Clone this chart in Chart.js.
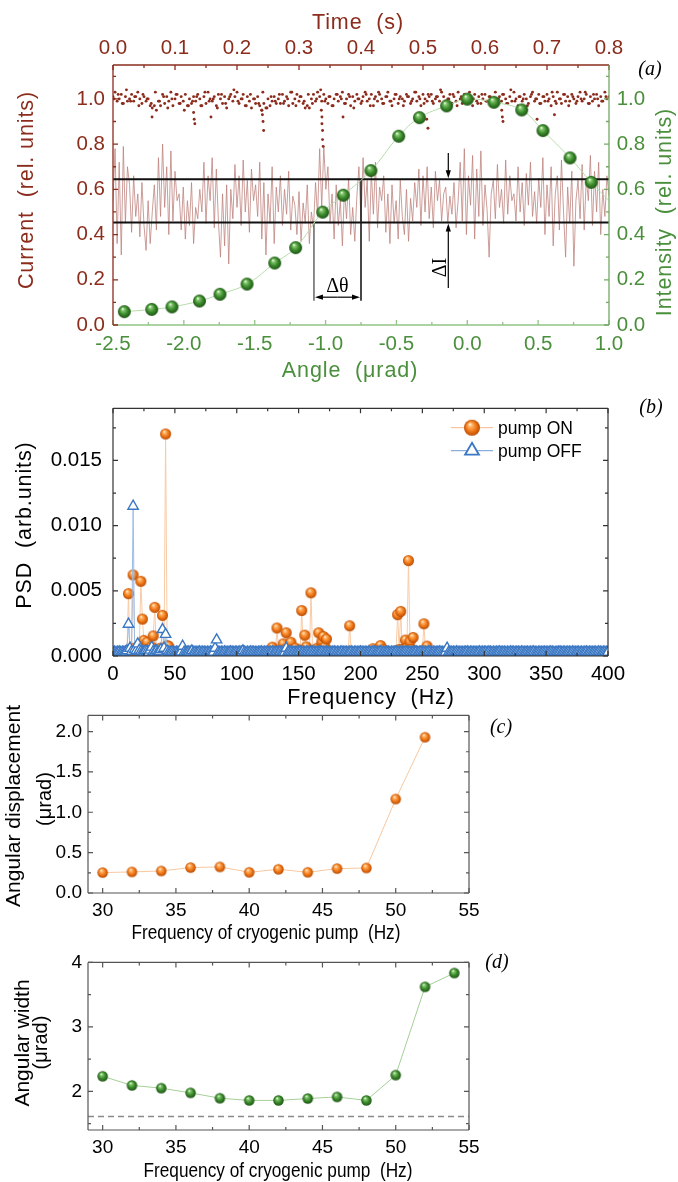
<!DOCTYPE html>
<html>
<head>
<meta charset="utf-8">
<script src="https://cdn.jsdelivr.net/npm/chart.js@4.4.1/dist/chart.umd.min.js"></script>
<style>
  html, body { margin: 0; padding: 0; background: #ffffff; }
  #page { position: relative; width: 678px; height: 1182px; overflow: hidden; background: #ffffff; }
  #page canvas { position: absolute; left: 0; }
</style>
</head>
<body>
<div id="page">
  <canvas id="panelA" width="678" height="385" style="top:0px"></canvas>
  <canvas id="panelB" width="678" height="325" style="top:385px"></canvas>
  <canvas id="panelC" width="678" height="252" style="top:698px"></canvas>
  <canvas id="panelD" width="678" height="237" style="top:945px"></canvas>
</div>
<script>
// ---------------- Panel (a): rocking curve and detector current ----------------
const angleUrad = [-2.42, -2.227, -2.084, -1.89, -1.745, -1.554, -1.359, -1.211, -1.02, -0.875,
                   -0.68, -0.484, -0.338, -0.146, 0.0, 0.188, 0.384, 0.534, 0.725, 0.875];
const intensityRel = [0.059, 0.069, 0.080, 0.106, 0.136, 0.181, 0.274, 0.342, 0.499, 0.574,
                      0.683, 0.835, 0.917, 0.969, 0.999, 0.985, 0.951, 0.860, 0.739, 0.631];
// the fitted curve continues to the edge of the angular range
const fitTailAngle = [1.0];
const fitTailIntensity = [0.55];

const recordSeconds = 0.8;
// ionisation-chamber current, evenly sampled over the record
const currentRel = [
  1.01,1.03,0.99,1.00,1.02,0.98,1.01,0.99,1.00,1.02,0.99,1.01,1.03,1.00,0.98,1.01,0.99,1.00,0.97,0.96,
  0.97,0.95,0.99,0.97,1.02,0.98,1.01,0.99,1.03,0.97,1.00,1.02,0.98,1.01,0.99,1.02,0.97,1.00,0.98,1.01,
  0.99,1.02,1.00,0.97,1.01,0.98,1.03,1.00,0.99,1.01,0.97,1.02,1.00,0.98,1.01,0.96,1.00,1.02,0.99,1.01,
  1.03,0.98,1.00,1.02,0.97,1.01,0.99,0.96,1.00,0.98,1.01,0.97,0.95,0.98,0.96,1.00,0.97,0.99,1.01,0.98,
  1.00,0.98,1.02,0.99,1.01,0.97,1.03,0.98,1.00,1.02,0.99,1.01,0.98,0.96,0.97,0.96,1.00,1.02,0.99,1.03,
  1.01,0.99,1.02,1.00,0.98,1.01,0.97,1.00,1.02,0.99,1.01,1.03,0.98,1.00,1.02,0.97,1.01,0.99,1.02,1.00,
  0.98,1.01,1.03,0.99,1.00,1.02,0.97,1.01,0.99,1.02,1.00,0.98,1.01,1.03,0.99,0.97,1.00,1.02,0.98,1.01,
  1.00,0.99,1.02,1.01,0.98,1.00,1.03,0.99,1.01,0.97,1.02,1.00,0.99,1.01,1.02,0.98,1.00,1.01,0.99,1.03,
  1.01,0.99,1.00,1.02,0.98,1.01,0.99,1.03,1.00,0.98,1.02,0.99,1.01,1.00,0.97,1.02,0.99,1.01,0.98,1.00,
  1.02,0.99,1.01,0.97,1.00,1.03,0.98,1.01,0.99,1.02,1.00,0.98,1.01,0.99,1.03,1.00,0.97,1.01,0.99,1.02,
  1.00,0.98,1.01,1.03,0.99,1.00,1.02,0.98,1.01,0.99,1.02,1.00,0.97,1.01,0.99,1.03,1.00,0.98,1.02,0.99,
  1.01,0.99,1.02,1.00,0.98,1.01,1.03,0.99,1.00,1.02,0.98,1.01,0.99,1.00,1.02,0.97,1.01,0.99,1.03,1.00,
  1.01
];
// second read-out of the same current, sampled between the points above
const currentRelMid = [
  1.00,1.02,0.98,1.04,0.99,1.01,0.97,1.02,1.00,0.98,1.03,0.99,1.01,0.96,1.00,1.02,0.98,0.95,0.97,0.99,
  1.01,0.97,1.03,0.99,1.00,0.96,1.02,0.98,1.01,1.04,0.99,1.00,0.97,1.02,1.00,0.98,1.03,0.96,1.01,0.99,
  1.02,0.98,1.00,1.03,0.97,1.01,0.99,1.02,0.98,1.00,1.04,0.99,1.01,0.97,1.02,1.00,0.98,1.01,0.96,1.00,
  0.99,1.02,0.97,1.00,1.03,0.98,1.01,0.99,1.02,1.00,0.97,1.01,0.99,1.03,1.00,0.98,1.02,0.99,1.01,1.04,
  0.98,1.00,1.02,0.97,1.01,0.99,1.03,1.00,0.98,1.02,0.99,1.01,0.97,1.00,1.02,0.98,1.04,0.99,1.01,1.00,
  0.97,1.02,1.00,0.98,1.01,0.99,1.03,0.98,1.00,1.02,0.97,1.01,0.99,1.00,1.03,0.98,1.02,1.00,0.99,1.01
];
// short drops of the current (seconds, relative units)
const dipTimes = [0.063, 0.130, 0.131, 0.132, 0.158, 0.240, 0.241, 0.242, 0.243,
                  0.336, 0.337, 0.337, 0.338, 0.338, 0.339, 0.371, 0.506, 0.508,
                  0.627, 0.628, 0.629, 0.684, 0.712];
const dipCurrent = [0.92, 0.94, 0.91, 0.89, 0.92, 0.95, 0.93, 0.90, 0.86,
                    0.95, 0.92, 0.89, 0.86, 0.82, 0.79, 0.92, 0.91, 0.87,
                    0.95, 0.92, 0.90, 0.91, 0.93];
// diffracted intensity recorded at a fixed angle, evenly sampled over the record
const intensityTrace = [
  0.55,0.78,0.36,0.72,0.31,0.79,0.45,0.70,
  0.62,0.41,0.66,0.48,0.58,0.39,0.63,
  0.44,0.33,0.55,0.36,0.50,
  0.62,0.42,0.74,0.48,0.80,0.52,0.70,0.40,0.77,0.46,0.68,0.55,
  0.58,0.42,0.61,0.38,0.55,0.44,0.63,0.36,0.52,0.47,0.60,
  0.50,0.72,0.45,0.66,0.55,0.74,0.43,0.69,
  0.46,0.30,0.58,0.35,0.62,0.27,
  0.60,0.47,0.71,0.52,0.66,0.44,0.73,0.50,0.64,0.41,0.69,0.55,0.62,
  0.48,0.72,0.38,0.63,0.31,0.58,0.45,0.70,0.36,0.61,0.50,
  0.66,0.44,0.60,0.49,0.68,0.42,0.57,0.53,
  0.40,0.59,0.37,0.54,0.45,0.62,0.36,0.50,0.43,
  0.63,0.48,0.78,0.52,0.79,0.60,0.70,0.45,
  0.58,0.38,0.62,0.44,0.55,0.35,0.60,0.47,0.65,0.40,0.52,0.37,0.57,
  0.70,0.46,0.74,0.52,0.64,0.37,0.68,0.49,0.72,0.43,0.61,0.55,0.66,
  0.41,0.58,0.36,0.62,0.45,0.55,0.38,0.64,0.48,0.40,0.60,0.37,0.56,0.46,0.63,
  0.52,0.69,0.44,0.66,0.50,0.70,0.47,0.61,0.43,0.68,0.55,0.64,0.46,0.58,
  0.61,0.45,0.57,0.49,0.63,0.43,0.55,
  0.72,0.46,0.78,0.40,0.66,0.53,0.75,0.38,0.69,0.48,0.77,0.44,0.62,0.51,0.30,0.58,
  0.64,0.47,0.71,0.52,0.60,0.45,0.73,0.49,0.66,0.55,0.58,0.46,0.70,0.50,0.63,0.44,0.67,0.53,0.72,0.48,0.59,0.45,0.65,
  0.52,0.74,0.40,0.62,0.48,0.70,0.35,0.58,0.66,0.42,0.73,0.50,0.30,0.61,0.45,0.68,0.26,0.55,0.64,
  0.47,0.71,0.42,0.65,0.55,0.75,0.44,0.68,0.50,0.72,0.40,0.60,0.48,0.66,0.57
];
// fluctuation band and the construction for the angular displacement
const upperLevel = 0.645, lowerLevel = 0.453;
const dThetaFrom = -1.082, dThetaTo = -0.75, dThetaArrowLevel = 0.123, guideFoot = 0.107;
const dIAngle = -0.134, dITopStart = 0.761, dIBottomStart = 0.164, dILabelLevel = 0.254;

// ---------------- Panel (b): power spectral density ----------------
const binWidthHz = 1.25;
// PSD per frequency bin, in units of 1e-5
const psdOnE5 = [
  20,18,22,19,21,17,20,23,19,30,478,45,60,622,40,35,55,70,573,283,
  120,60,105,50,40,70,154,373,45,40,55,60,312,50,1703,80,75,30,22,20,
  18,20,22,19,17,21,24,20,18,19,22,20,17,21,19,23,20,18,22,19,
  21,19,23,18,20,22,19,17,21,20,18,22,19,21,20,24,19,35,20,18,
  22,19,21,18,20,23,19,21,17,20,22,18,21,19,20,22,18,21,19,20,
  20,22,25,68,30,40,215,35,25,40,93,50,178,45,40,105,50,35,60,30,
  30,45,349,40,160,70,35,30,485,40,30,50,60,178,60,110,150,70,130,40,
  30,25,22,20,21,19,23,20,18,22,24,21,30,232,28,20,19,22,21,18,
  20,22,19,21,23,20,18,25,56,22,40,20,50,80,40,50,22,19,21,20,
  22,25,30,40,317,50,342,50,40,122,60,732,110,50,142,40,30,25,30,35,
  40,247,40,76,30,22,20,19,21,23,18,20,22,19,21,20,18,22,19,21,
  20,19,22,18,21,20,23,19,21,30,20,18,22,19,21,20,19,22,30,20,
  19,21,20,22,18,21,19,23,20,18,22,19,21,20,18,22,19,21,20,19,
  21,30,19,22,20,18,21,19,22,20,23,19,21,18,20,22,19,21,20,18,
  20,22,19,21,18,20,23,19,21,20,18,22,19,21,20,19,22,18,21,20,
  19,21,20,22,18,21,19,20,22,19,21,18,20,22,19,21,20,19,22,20,
  21
];
const psdOffE5 = [
  28,30,27,29,31,28,30,29,32,40,244,60,35,1149,50,40,93,45,35,30,
  32,40,35,30,45,68,35,30,40,32,35,50,203,60,166,40,30,28,31,29,
  28,30,29,27,31,75,29,28,30,32,29,40,28,30,27,29,31,28,30,29,
  27,30,28,31,29,30,60,124,29,28,30,27,31,29,28,30,32,29,27,30,
  29,28,31,30,40,29,27,30,28,31,29,30,28,27,30,29,31,28,30,29,
  30,28,29,31,27,30,29,28,32,29,30,28,60,29,31,30,28,29,27,30,
  29,31,28,30,27,29,30,28,31,29,30,27,29,28,30,31,29,28,30,27,
  30,28,29,31,28,30,27,29,31,28,30,29,28,30,31,27,29,30,28,29,
  31,29,28,30,27,29,30,28,31,29,28,30,29,31,27,30,28,29,30,28,
  29,30,28,31,29,27,30,28,29,31,30,28,29,27,30,29,31,28,30,29,
  28,30,29,27,31,29,28,30,29,28,30,31,29,28,27,30,60,29,28,30,
  29,28,31,30,28,29,27,30,29,31,28,30,29,28,30,27,29,31,28,30,
  30,29,28,31,29,27,30,28,29,30,31,28,29,30,27,29,28,31,30,29,
  28,30,29,27,31,29,28,30,29,28,30,29,31,28,27,30,29,28,30,29,
  29,28,30,31,29,28,27,30,29,31,28,30,29,28,30,29,27,31,29,28,
  30,29,28,30,27,29,31,28,30,29,28,30,29,27,31,29,28,30,29,28,
  30
];
const seriesNames = ['pump ON', 'pump OFF'];

// ---------------- Panels (c) and (d): versus cryogenic pump frequency ----------------
const pumpHzDisp = [30, 32, 34, 36, 38, 40, 42, 44, 46, 48, 50, 52];
const displacementUrad = [0.253, 0.261, 0.273, 0.315, 0.323, 0.257, 0.294, 0.257, 0.302, 0.310, 1.164, 1.930];
const pumpHzWidth = [30, 32, 34, 36, 38, 40, 42, 44, 46, 48, 50, 52, 54];
const widthUrad = [2.233, 2.092, 2.049, 1.976, 1.893, 1.859, 1.859, 1.888, 1.913, 1.859, 2.252, 3.621, 3.835];
const widthLimitUrad = 1.61;
const pumpAxisMin = 29, pumpAxisMax = 55;

// ---------------- styling ----------------
const SANS = "'Liberation Sans', Arial, sans-serif";
const SERIF = "'Liberation Serif', 'Times New Roman', serif";
const RED = '#8b2c1c';
const GREEN = '#4a8f3c';

function makeSphere(d, c) {
  const cv = document.createElement('canvas');
  const s = Math.ceil(d) + 2;
  cv.width = s; cv.height = s;
  const g = cv.getContext('2d');
  const r = d / 2, cx = s / 2, cy = s / 2;
  const grad = g.createRadialGradient(cx - r * 0.28, cy - r * 0.45, r * 0.04, cx, cy, r);
  grad.addColorStop(0, c.hi);
  grad.addColorStop(0.22, c.light);
  grad.addColorStop(0.6, c.base);
  grad.addColorStop(1, c.dark);
  g.fillStyle = grad;
  g.beginPath(); g.arc(cx, cy, r, 0, Math.PI * 2); g.fill();
  return cv;
}
const greenTone = { hi: '#f4fff0', light: '#7fc46a', base: '#3b8a2c', dark: '#1d5414' };
const orangeTone = { hi: '#fff6e6', light: '#ffb466', base: '#f27a1a', dark: '#b94b02' };

const pts = (xs, ys, k) => xs.map((x, i) => ({ x: x, y: ys[i] * (k || 1) }));
const grid = (n, step, offset) => Array.from({ length: n }, (_, i) => (offset || 0) + i * step);

function axis(pos, min, max, step, fmt, font, color, padding, size) {
  return {
    type: 'linear', position: pos, min: min, max: max,
    ticks: { stepSize: step, includeBounds: false, autoSkip: false, maxRotation: 0,
             callback: (v) => fmt(v), font: font, color: color, padding: padding },
    grid: { display: false, drawTicks: false },
    border: { display: false },
    afterFit(s) { if (pos === 'left' || pos === 'right') s.width = size; else s.height = size; }
  };
}

function baseOptions(scales, padding) {
  return {
    responsive: false, maintainAspectRatio: false, animation: false, devicePixelRatio: 1,
    events: [], layout: { padding: padding || 0 },
    plugins: { legend: { display: false }, tooltip: { enabled: false } },
    scales: scales
  };
}

// inward tick marks and axis lines
function axisDecor(id, axes) {
  return {
    id: id,
    afterDatasetsDraw(chart) {
      const ctx = chart.ctx, a = chart.chartArea;
      ctx.save();
      for (const ax of axes) {
        const s = chart.scales[ax.scale];
        const horiz = ax.side === 'top' || ax.side === 'bottom';
        const edge = a[ax.side];
        const dir = (ax.side === 'top' || ax.side === 'left') ? 1 : -1;
        ctx.strokeStyle = ax.color; ctx.lineWidth = ax.width || 1;
        ctx.beginPath();
        if (horiz) { ctx.moveTo(a.left, edge); ctx.lineTo(a.right, edge); }
        else { ctx.moveTo(edge, a.top); ctx.lineTo(edge, a.bottom); }
        ctx.stroke();
        const k0 = Math.ceil(s.min / ax.minor - 1e-6), k1 = Math.floor(s.max / ax.minor + 1e-6);
        ctx.beginPath();
        for (let k = k0; k <= k1; k++) {
          const v = k * ax.minor, r = v / ax.major;
          const len = Math.abs(r - Math.round(r)) < 1e-6 ? 5 : 3;
          const p = s.getPixelForValue(v);
          if (horiz) { ctx.moveTo(p, edge); ctx.lineTo(p, edge + dir * len); }
          else { ctx.moveTo(edge, p); ctx.lineTo(edge + dir * len, p); }
        }
        ctx.stroke();
      }
      ctx.restore();
    }
  };
}

// axis titles and panel letters
function textMarks(id, items) {
  return {
    id: id,
    afterDraw(chart) {
      const ctx = chart.ctx;
      for (const t of items) {
        ctx.save();
        ctx.font = t.font; ctx.fillStyle = t.color || '#000';
        ctx.letterSpacing = t.spacing || '0px';
        ctx.textAlign = t.align || 'center'; ctx.textBaseline = 'alphabetic';
        ctx.translate(t.x, t.y);
        if (t.rotate) ctx.rotate(t.rotate);
        if (t.squeeze) ctx.scale(t.squeeze, 1);
        ctx.fillText(t.text, 0, 0);
        ctx.restore();
      }
    }
  };
}

function arrow(ctx, x1, y1, x2, y2, head, half) {
  const ang = Math.atan2(y2 - y1, x2 - x1), c = Math.cos(ang), s = Math.sin(ang);
  ctx.beginPath(); ctx.moveTo(x1, y1); ctx.lineTo(x2 - c * head * 0.7, y2 - s * head * 0.7); ctx.stroke();
  ctx.beginPath();
  ctx.moveTo(x2, y2);
  ctx.lineTo(x2 - c * head + s * half, y2 - s * head - c * half);
  ctx.lineTo(x2 - c * head - s * half, y2 - s * head + c * half);
  ctx.closePath(); ctx.fill();
}

const UP = -Math.PI / 2;
const TITLE = '21.5px ' + SANS;

// ---------------- Panel (a) ----------------
const guides = {
  id: 'guides',
  afterDatasetDraw(chart, args) {
    if (chart.data.datasets[args.index].label !== 'trace') return;
    const ctx = chart.ctx, xa = chart.scales.xAngle, y = chart.scales.yCur, a = chart.chartArea;
    const yU = y.getPixelForValue(upperLevel), yL = y.getPixelForValue(lowerLevel);
    const xA = xa.getPixelForValue(dThetaFrom), xB = xa.getPixelForValue(dThetaTo);
    const yFoot = y.getPixelForValue(guideFoot), yArr = y.getPixelForValue(dThetaArrowLevel);
    const xI = xa.getPixelForValue(dIAngle);
    ctx.save();
    ctx.strokeStyle = '#111'; ctx.lineWidth = 2;
    ctx.beginPath();
    ctx.moveTo(a.left, yU); ctx.lineTo(a.right, yU);
    ctx.moveTo(a.left, yL); ctx.lineTo(a.right, yL);
    ctx.stroke();
    ctx.lineWidth = 1.6;
    ctx.strokeStyle = '#6e6e6e';
    ctx.beginPath(); ctx.moveTo(xA, yL); ctx.lineTo(xA, yFoot); ctx.stroke();
    ctx.strokeStyle = '#1a1a1a';
    ctx.beginPath(); ctx.moveTo(xB, yU); ctx.lineTo(xB, yFoot); ctx.stroke();
    ctx.lineWidth = 1.2; ctx.strokeStyle = '#000'; ctx.fillStyle = '#000';
    const xm = (xA + xB) / 2;
    arrow(ctx, xm, yArr, xA + 1, yArr, 8, 2.6);
    arrow(ctx, xm, yArr, xB - 1, yArr, 8, 2.6);
    arrow(ctx, xI, y.getPixelForValue(dITopStart), xI, yU - 1, 8, 2.6);
    arrow(ctx, xI, y.getPixelForValue(dIBottomStart), xI, yL + 1, 8, 2.6);
    ctx.font = "20px " + SERIF; ctx.textAlign = 'center'; ctx.textBaseline = 'alphabetic';
    ctx.fillText('\u0394\u03B8', xm, yArr - 5.5);
    ctx.save();
    ctx.translate(xI - 2, y.getPixelForValue(dILabelLevel));
    ctx.rotate(UP);
    ctx.fillText('\u0394I', 0, 0);
    ctx.restore();
    ctx.restore();
  }
};

const fontA = { family: SANS, size: 20.5 };
const dotStyle = { pointRadius: 1.45, pointBackgroundColor: RED, pointBorderWidth: 0, order: 3 };
const halfStep = recordSeconds / (currentRel.length - 1);
new Chart(document.getElementById('panelA'), {
  type: 'scatter',
  data: {
    datasets: [
      { label: 'trace', xAxisID: 'xTime', yAxisID: 'yCur',
        data: pts(grid(intensityTrace.length, recordSeconds / (intensityTrace.length - 1)), intensityTrace),
        showLine: true, borderColor: 'rgba(188,128,122,0.85)', borderWidth: 0.9, pointRadius: 0, order: 4 },
      Object.assign({ label: 'current', xAxisID: 'xTime', yAxisID: 'yCur',
        data: pts(grid(currentRel.length, halfStep), currentRel) }, dotStyle),
      Object.assign({ label: 'current (between samples)', xAxisID: 'xTime', yAxisID: 'yCur',
        data: pts(grid(currentRelMid.length, 2 * halfStep, halfStep / 2), currentRelMid) }, dotStyle),
      Object.assign({ label: 'current drops', xAxisID: 'xTime', yAxisID: 'yCur',
        data: pts(dipTimes, dipCurrent) }, dotStyle),
      { label: 'fit', xAxisID: 'xAngle', yAxisID: 'yInt',
        data: pts(angleUrad.concat(fitTailAngle), intensityRel.concat(fitTailIntensity)),
        showLine: true, tension: 0.4, borderColor: '#b6dcaa', borderWidth: 1, pointRadius: 0, order: 1 },
      { label: 'intensity', xAxisID: 'xAngle', yAxisID: 'yInt',
        data: pts(angleUrad, intensityRel),
        pointStyle: makeSphere(13, greenTone), pointRadius: 6, order: 0 }
    ]
  },
  options: baseOptions({
    xAngle: axis('bottom', -2.5, 1.0, 0.5, v => v.toFixed(1), fontA, GREEN, 6.7, 60),
    xTime: axis('top', 0, 0.8, 0.1, v => v.toFixed(1), fontA, RED, 4.4, 65),
    yCur: axis('left', 0, 1.15, 0.2, v => v.toFixed(1), fontA, RED, 8, 113),
    yInt: axis('right', 0, 1.15, 0.2, v => v.toFixed(1), fontA, GREEN, 7.7, 69)
  }),
  plugins: [
    guides,
    axisDecor('decorA', [
      { scale: 'xAngle', side: 'bottom', major: 0.5, minor: 0.25, color: '#92c486', width: 1.3 },
      { scale: 'xTime', side: 'top', major: 0.1, minor: 0.05, color: RED, width: 1.3 },
      { scale: 'yCur', side: 'left', major: 0.2, minor: 0.1, color: RED, width: 1.3 },
      { scale: 'yInt', side: 'right', major: 0.2, minor: 0.1, color: '#74a866', width: 1.3 }
    ]),
    textMarks('textA', [
      { text: 'Time  (s)', x: 358, y: 28.5, font: TITLE, spacing: '0.9px', color: RED },
      { text: 'Angle  (\u03BCrad)', x: 350, y: 377, font: TITLE, spacing: '0.9px', color: GREEN },
      { text: 'Current  (rel. units)', x: 32.5, y: 190, rotate: UP, font: TITLE, spacing: '0.9px', color: RED },
      { text: 'Intensity  (rel. units)', x: 671, y: 212, rotate: UP, font: TITLE, spacing: '0.9px', color: GREEN },
      { text: '(a)', x: 650, y: 75, font: 'italic 20px ' + SERIF, color: '#000' }
    ])
  ]
});

// ---------------- Panel (b) ----------------
const fontB = { family: SANS, size: 20.5 };
const orangeSmall = makeSphere(11, orangeTone);
const psdLegend = {
  id: 'psdLegend',
  afterDraw(chart) {
    const ctx = chart.ctx;
    const rows = [
      { y: 42.7, line: '#f6b98a', kind: 'sphere', text: seriesNames[0] },
      { y: 65.7, line: '#6d9bd6', kind: 'triangle', text: seriesNames[1] }
    ];
    const x0 = 451, x1 = 493, xm = 472, xt = 498;
    ctx.save();
    for (const r of rows) {
      ctx.strokeStyle = r.line; ctx.lineWidth = 1;
      ctx.beginPath(); ctx.moveTo(x0, r.y); ctx.lineTo(x1, r.y); ctx.stroke();
      if (r.kind === 'sphere') {
        const img = makeSphere(16, orangeTone);
        ctx.drawImage(img, xm - img.width / 2, r.y - img.height / 2);
      } else {
        const rr = 8;
        ctx.fillStyle = '#fff'; ctx.strokeStyle = '#3b78c4'; ctx.lineWidth = 1.8;
        ctx.beginPath();
        ctx.moveTo(xm, r.y - rr);
        ctx.lineTo(xm + rr * 0.866, r.y + rr / 2);
        ctx.lineTo(xm - rr * 0.866, r.y + rr / 2);
        ctx.closePath(); ctx.fill(); ctx.stroke();
      }
      ctx.fillStyle = '#000'; ctx.font = '17.5px ' + SANS;
      ctx.textAlign = 'left'; ctx.textBaseline = 'alphabetic';
      ctx.fillText(r.text, xt, r.y + 5.8);
    }
    ctx.restore();
  }
};

new Chart(document.getElementById('panelB'), {
  type: 'scatter',
  data: {
    datasets: [
      { label: seriesNames[1], xAxisID: 'x', yAxisID: 'y',
        data: pts(grid(psdOffE5.length, binWidthHz), psdOffE5, 1e-5),
        showLine: true, borderColor: '#9cbde6', borderWidth: 1,
        pointStyle: 'triangle', pointRadius: 6, pointBorderColor: '#3b78c4', pointBorderWidth: 1.4,
        pointBackgroundColor: '#ffffff', order: 0 },
      { label: seriesNames[0], xAxisID: 'x', yAxisID: 'y',
        data: pts(grid(psdOnE5.length, binWidthHz), psdOnE5, 1e-5),
        showLine: true, borderColor: '#f8cba6', borderWidth: 1,
        pointStyle: orangeSmall, pointRadius: 5, order: 1 }
    ]
  },
  options: baseOptions({
    x: axis('bottom', 0, 400, 50, v => String(Math.round(v)), fontB, '#000', 6.5, 54),
    y: axis('left', 0, 0.019, 0.005, v => v.toFixed(3), fontB, '#000', 11, 113)
  }, { top: 11, right: 70 }),
  plugins: [
    axisDecor('decorB', [
      { scale: 'x', side: 'bottom', major: 50, minor: 25, color: '#333', width: 1.2 },
      { scale: 'x', side: 'top', major: 50, minor: 25, color: '#333', width: 1.2 },
      { scale: 'y', side: 'left', major: 0.005, minor: 0.0025, color: '#333', width: 1.2 },
      { scale: 'y', side: 'right', major: 0.005, minor: 0.0025, color: '#333', width: 1.2 }
    ]),
    psdLegend,
    textMarks('textB', [
      { text: 'PSD  (arb.units)', x: 31, y: 140, rotate: UP, font: TITLE, spacing: '0.9px' },
      { text: 'Frequency  (Hz)', x: 371, y: 318.5, font: TITLE, spacing: '0.9px' },
      { text: '(b)', x: 651, y: 27.5, font: 'italic 20px ' + SERIF }
    ])
  ]
});

// ---------------- Panel (c) ----------------
const fontCD = { family: SANS, size: 19 };
new Chart(document.getElementById('panelC'), {
  type: 'scatter',
  data: {
    datasets: [
      { label: 'angular displacement', xAxisID: 'x', yAxisID: 'y',
        data: pts(pumpHzDisp, displacementUrad),
        showLine: true, borderColor: '#f8c79f', borderWidth: 1,
        pointStyle: makeSphere(10.5, orangeTone), pointRadius: 5 }
    ]
  },
  options: baseOptions({
    x: axis('bottom', pumpAxisMin, pumpAxisMax, 5, v => String(Math.round(v)), fontCD, '#000', 5.9, 57),
    y: axis('left', 0, 2.2, 0.5, v => v.toFixed(1), fontCD, '#000', 6, 88)
  }, { top: 17, right: 209 }),
  plugins: [
    axisDecor('decorC', [
      { scale: 'x', side: 'bottom', major: 5, minor: 2.5, color: '#555', width: 1.2 },
      { scale: 'x', side: 'top', major: 5, minor: 2.5, color: '#555', width: 1.2 },
      { scale: 'y', side: 'left', major: 0.5, minor: 0.25, color: '#555', width: 1.2 },
      { scale: 'y', side: 'right', major: 0.5, minor: 0.25, color: '#555', width: 1.2 }
    ]),
    textMarks('textC', [
      { text: 'Angular displacement', x: 20, y: 108, rotate: UP, font: '21px ' + SANS },
      { text: '(\u03BCrad)', x: 51, y: 101, rotate: UP, font: '20px ' + SANS },
      { text: 'Frequency of cryogenic pump  (Hz)', x: 266, y: 241, font: '21px ' + SANS, squeeze: 0.82 },
      { text: '(c)', x: 501, y: 35, font: 'italic 20px ' + SERIF }
    ])
  ]
});

// ---------------- Panel (d) ----------------
new Chart(document.getElementById('panelD'), {
  type: 'scatter',
  data: {
    datasets: [
      { label: 'width limit', xAxisID: 'x', yAxisID: 'y',
        data: pts([pumpAxisMin, pumpAxisMax], [widthLimitUrad, widthLimitUrad]),
        showLine: true, borderColor: '#8a8a8a', borderWidth: 1.5, borderDash: [6, 4], pointRadius: 0, order: 2 },
      { label: 'angular width', xAxisID: 'x', yAxisID: 'y',
        data: pts(pumpHzWidth, widthUrad),
        showLine: true, borderColor: '#a6cf98', borderWidth: 1,
        pointStyle: makeSphere(10.5, greenTone), pointRadius: 5, order: 0 }
    ]
  },
  options: baseOptions({
    x: axis('bottom', pumpAxisMin, pumpAxisMax, 5, v => String(Math.round(v)), fontCD, '#000', 6.8, 52),
    y: axis('left', 1.4, 4, 1, v => String(Math.round(v)), fontCD, '#000', 6, 88)
  }, { top: 6, right: 209 }),
  plugins: [
    axisDecor('decorD', [
      { scale: 'x', side: 'bottom', major: 5, minor: 2.5, color: '#555', width: 1.2 },
      { scale: 'x', side: 'top', major: 5, minor: 2.5, color: '#555', width: 1.2 },
      { scale: 'y', side: 'left', major: 1, minor: 0.5, color: '#555', width: 1.2 },
      { scale: 'y', side: 'right', major: 1, minor: 0.5, color: '#555', width: 1.2 }
    ]),
    textMarks('textD', [
      { text: 'Angular width', x: 29, y: 98, rotate: UP, font: '21px ' + SANS },
      { text: '(\u03BCrad)', x: 47, y: 97.5, rotate: UP, font: '20px ' + SANS },
      { text: 'Frequency of cryogenic pump  (Hz)', x: 278, y: 232, font: '21px ' + SANS, squeeze: 0.82 },
      { text: '(d)', x: 497, y: 23, font: 'italic 20px ' + SERIF }
    ])
  ]
});
</script>
</body>
</html>
